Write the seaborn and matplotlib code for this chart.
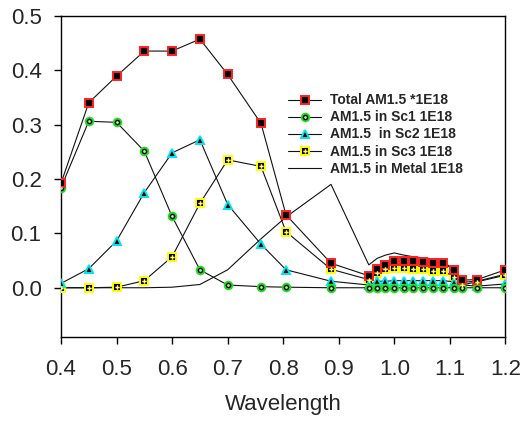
import matplotlib
matplotlib.use("Agg")
import matplotlib.pyplot as plt
import seaborn as sns
import pandas as pd
from matplotlib.legend_handler import HandlerTuple

sns.set_style("white")
plt.rcParams['font.family'] = ['Liberation Sans', 'DejaVu Sans']

wavelength = [0.40, 0.45, 0.50, 0.55, 0.60, 0.65, 0.70, 0.76, 0.805, 0.886,
              0.954, 0.969, 0.984, 1.000, 1.017, 1.034, 1.052, 1.070, 1.088,
              1.107, 1.121, 1.149, 1.200]
total = [0.192, 0.340, 0.389, 0.435, 0.435, 0.457, 0.392, 0.302, 0.134, 0.045,
         0.022, 0.034, 0.042, 0.049, 0.049, 0.049, 0.048, 0.046, 0.046,
         0.033, 0.014, 0.015, 0.033]
sc1 = [0.184, 0.306, 0.304, 0.251, 0.131, 0.033, 0.005, 0.002, 0.001, 0.0,
       0.0, 0.0, 0.0, 0.0, 0.0, 0.0, 0.0, 0.0, 0.0,
       0.0, 0.0, 0.0, 0.0]
sc2 = [0.008, 0.035, 0.086, 0.175, 0.248, 0.272, 0.153, 0.080, 0.033, 0.012,
       0.005, 0.012, 0.012, 0.013, 0.013, 0.013, 0.013, 0.013, 0.013,
       0.011, 0.005, 0.003, 0.007]
sc3 = [0.0, 0.0, 0.001, 0.013, 0.057, 0.155, 0.235, 0.223, 0.103, 0.034,
       0.015, 0.028, 0.034, 0.037, 0.037, 0.034, 0.034, 0.031, 0.031,
       0.020, 0.005, 0.011, 0.023]
metal = [0.0, 0.0, 0.0, 0.0, 0.001, 0.006, 0.033, 0.090, 0.130, 0.190,
         0.042, 0.054, 0.060, 0.064, 0.060, 0.057, 0.055, 0.053, 0.051,
         0.030, 0.010, 0.012, 0.025]

labels = ["Total AM1.5 *1E18", "AM1.5 in Sc1 1E18", "AM1.5  in Sc2 1E18",
          "AM1.5 in Sc3 1E18", "AM1.5 in Metal 1E18"]
x_ticks = [0.4, 0.5, 0.6, 0.7, 0.8, 0.9, 1.0, 1.1, 1.2]
y_ticks = [0.0, 0.1, 0.2, 0.3, 0.4, 0.5]

df = pd.DataFrame({"wl": wavelength, "total": total, "sc1": sc1,
                   "sc2": sc2, "sc3": sc3, "metal": metal})

fig = plt.figure(figsize=(5.23, 4.21), dpi=100)
ax = fig.add_axes([0.1166, 0.2002, 0.9665 - 0.1166, 0.9627 - 0.2002])

lc = '#111111'
lw = 0.8
ms = 5.5

sns.lineplot(data=df, x="wl", y="metal", ax=ax, color=lc, lw=lw, zorder=2)
sns.lineplot(data=df, x="wl", y="sc3", ax=ax, color=lc, lw=lw, marker='s', ms=ms,
             mfc='black', mec='#ffff00', mew=1.4, zorder=3)
sns.lineplot(data=df, x="wl", y="sc3", ax=ax, color='#ffff66', lw=0, marker='P', ms=3.2,
             mew=0, zorder=4)
sns.lineplot(data=df, x="wl", y="sc2", ax=ax, color=lc, lw=lw, marker='^', ms=ms + 0.8,
             mfc='black', mec='#00e5ee', mew=1.4, zorder=3)
sns.lineplot(data=df, x="wl", y="sc1", ax=ax, color=lc, lw=lw, marker='o', ms=ms,
             mfc='black', mec='#22dd22', mew=1.4, zorder=3)
sns.lineplot(data=df, x="wl", y="sc1", ax=ax, color='#99ff99', lw=0, marker='o', ms=2.0,
             mew=0, zorder=4)
sns.lineplot(data=df, x="wl", y="total", ax=ax, color=lc, lw=lw, marker='s', ms=ms,
             mfc='black', mec='#ff2020', mew=1.4, zorder=3)

lines = ax.get_lines()
h_metal = lines[0]
h_sc3 = (lines[1], lines[2])
h_sc2 = lines[3]
h_sc1 = (lines[4], lines[5])
h_total = lines[6]

ax.legend([h_total, h_sc1, h_sc2, h_sc3, h_metal], labels,
          handler_map={tuple: HandlerTuple(ndivide=1, pad=0)},
          loc='upper left', bbox_to_anchor=(0.511, 0.758), frameon=False,
          borderpad=0, borderaxespad=0, handlelength=2.4, handletextpad=0.65,
          labelspacing=0.22, prop={'weight': 'bold', 'size': 10})

ax.set_xlim(0.4, 1.2)
ax.set_ylim(-0.09, 0.5)
ax.set_xticks(x_ticks)
ax.set_xticklabels([f"{v:.1f}" for v in x_ticks])
ax.set_yticks(y_ticks)
ax.set_yticklabels([f"{v:.1f}" for v in y_ticks])
ax.tick_params(axis='y', direction='out', length=5, width=1, color='black',
               labelsize=16, pad=9, left=True)
ax.tick_params(axis='x', direction='out', length=5, width=1, color='black',
               labelsize=16, pad=11, bottom=True)
for s in ax.spines.values():
    s.set_visible(True)
    s.set_color('black')
    s.set_linewidth(1)
ax.set_xlabel("Wavelength", fontsize=16, labelpad=10)
ax.set_ylabel("")
ax.grid(False)

fig.savefig("out.png", dpi=100)
